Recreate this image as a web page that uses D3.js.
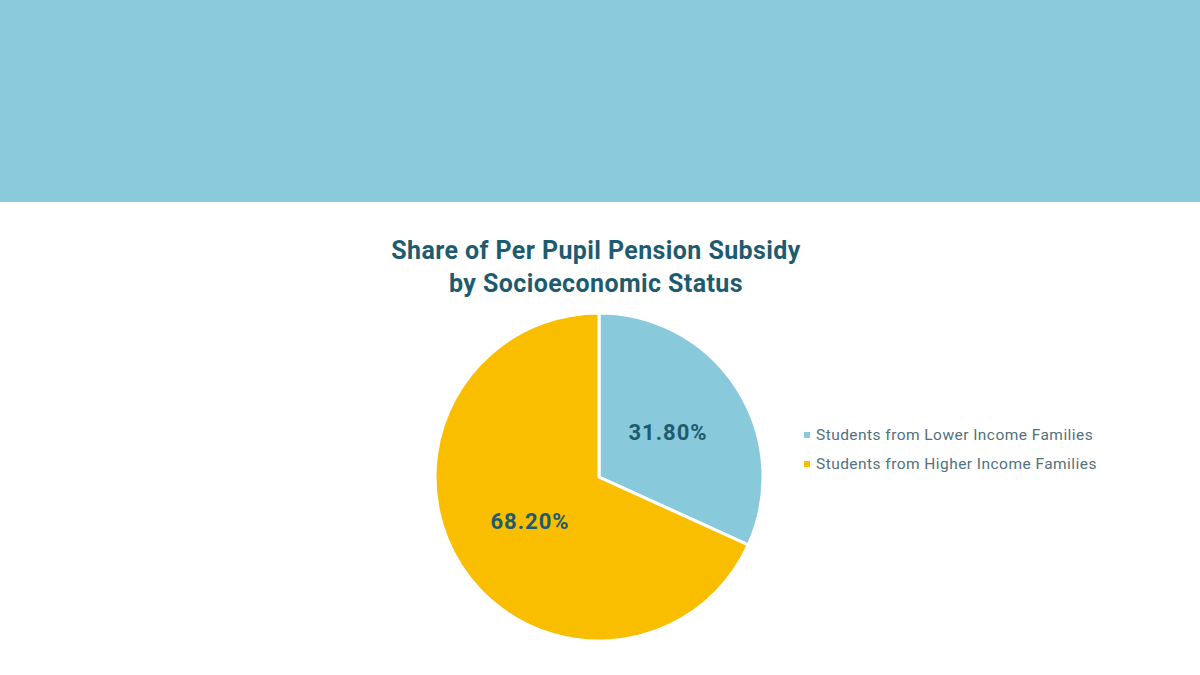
<!DOCTYPE html>
<html>
<head>
<meta charset="utf-8">
<script src="https://cdn.jsdelivr.net/npm/d3@7"></script>
<style>
  body { margin: 0; background: #fff; }
  svg { display: block; }
</style>
</head>
<body>
<div id="chart"></div>
<script>
var chart_width = 1200;
var chart_height = 675;

var categories = ['Students from Lower Income Families', 'Students from Higher Income Families'];
var shares = [31.8, 68.2];
var colors = ['#89C9DC', '#F9BE00'];
var title_lines = ['Share of Per Pupil Pension Subsidy', 'by Socioeconomic Status'];

var cx = 599, cy = 477, radius = 164;

var svg = d3.select('#chart')
  .append('svg')
  .attr('width', chart_width)
  .attr('height', chart_height);

// Top band
svg.append('rect')
  .attr('x', 0).attr('y', 0)
  .attr('width', chart_width).attr('height', 202)
  .attr('fill', '#8BCADC');

// Title
svg.selectAll('text.title')
  .data(title_lines)
  .enter()
  .append('text')
  .attr('class', 'title')
  .attr('x', 596)
  .attr('y', function(d, i) { return 259 + i * 33; })
  .attr('text-anchor', 'middle')
  .attr('font-family', 'Roboto, sans-serif')
  .attr('font-weight', 'bold')
  .attr('font-size', 25)
  .attr('letter-spacing', 0.4)
  .attr('fill', '#1F5B6F')
  .text(function(d) { return d; });

// Pie
var pie = d3.pie().sort(null).value(function(d) { return d; });
var arc = d3.arc().innerRadius(0).outerRadius(radius);

var g = svg.append('g').attr('transform', 'translate(' + cx + ',' + cy + ')');

g.selectAll('path')
  .data(pie(shares))
  .enter()
  .append('path')
  .attr('d', arc)
  .attr('fill', function(d, i) { return colors[i]; })
  .attr('stroke', '#fff')
  .attr('stroke-width', 3);

g.selectAll('text')
  .data(pie(shares))
  .enter()
  .append('text')
  .attr('transform', function(d) { return 'translate(' + arc.centroid(d) + ')'; })
  .attr('dy', '0.35em')
  .attr('text-anchor', 'middle')
  .attr('font-family', 'Roboto, sans-serif')
  .attr('font-weight', 'bold')
  .attr('font-size', 22)
  .attr('letter-spacing', 1)
  .attr('fill', '#1F5B6F')
  .text(function(d) { return d.value.toFixed(2) + '%'; });

// Legend
var legend = svg.selectAll('g.legend')
  .data(categories)
  .enter()
  .append('g')
  .attr('class', 'legend')
  .attr('transform', function(d, i) { return 'translate(804,' + (435 + i * 29) + ')'; });

legend.append('rect')
  .attr('x', 0).attr('y', -3)
  .attr('width', 6).attr('height', 6)
  .attr('fill', function(d, i) { return colors[i]; });

legend.append('text')
  .attr('x', 12)
  .attr('dy', '0.35em')
  .attr('font-family', 'Roboto, sans-serif')
  .attr('font-size', 15.5)
  .attr('letter-spacing', 0.45)
  .attr('fill', '#52717D')
  .text(function(d) { return d; });
</script>
</body>
</html>
